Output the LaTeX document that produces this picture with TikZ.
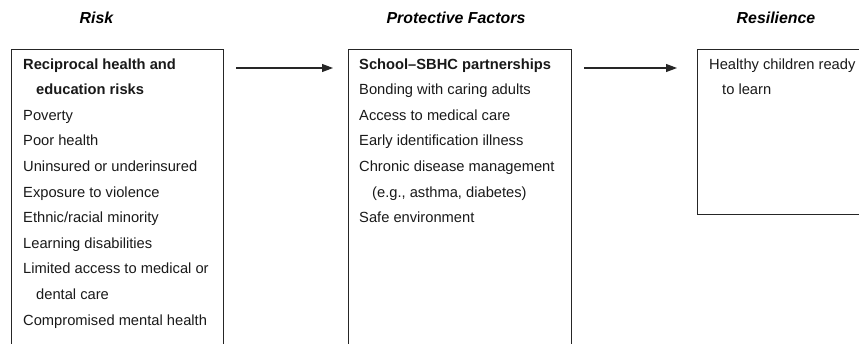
\documentclass[tikz,border=0pt]{standalone}
\usepackage{fontspec}
\setmainfont{Liberation Sans}
\usetikzlibrary{arrows.meta}
\begin{document}
\begin{tikzpicture}[x=1pt,y=-1pt,
  panel/.style={draw=black!85, line width=1pt, anchor=north west, inner sep=0pt},
  heading/.style={font=\fontsize{15.9}{18}\selectfont\bfseries\itshape, anchor=center},
  entry/.style={font=\fontsize{14.7}{17}\selectfont, anchor=base west, inner sep=0pt, text=black!90},
  strong/.style={entry, font=\fontsize{14.7}{17}\selectfont\bfseries},
  conn/.style={draw=black!85, line width=1.1pt, -{Triangle[length=11pt,width=8pt]}}
]
\useasboundingbox (0,0) rectangle (859,343);
\clip (0,0) rectangle (859,343);

% column headings
\node[heading] (hrisk) at (96.5,17.5) {Risk};
\node[heading] (hprot) at (456,17.5) {Protective Factors};
\node[heading] (hres)  at (776,17.5) {Resilience};

% panels (run past the lower and right edges)
\node[panel, minimum width=212, minimum height=320] (risk) at (11,49) {};
\node[panel, minimum width=223, minimum height=320] (prot) at (348,49) {};
\node[panel, minimum width=200, minimum height=165] (res)  at (697,49) {};

% connectors between panels
\draw[conn, shorten <=12pt, shorten >=15pt]
  ([yshift=-19pt]risk.north east) -- ([yshift=-19pt]prot.north west);
\draw[conn, shorten <=12pt, shorten >=20pt]
  ([yshift=-19pt]prot.north east) -- ([yshift=-19pt]res.north west);

% risk factors
\node[strong] (r1) at (23,69) {Reciprocal health and};
\node[strong] (r2) at (36,94.6) {education risks};
\node[entry] (r3) at (23,120.2) {Poverty};
\node[entry] (r4) at (23,145.8) {Poor health};
\node[entry] (r5) at (23,171.4) {Uninsured or underinsured};
\node[entry] (r6) at (23,197) {Exposure to violence};
\node[entry] (r7) at (23,222.6) {Ethnic/racial minority};
\node[entry] (r8) at (23,248.2) {Learning disabilities};
\node[entry] (r9) at (23,273.8) {Limited access to medical or};
\node[entry] (r10) at (36,299.4) {dental care};
\node[entry] (r11) at (23,325) {Compromised mental health};

% protective factors
\node[strong] (p1) at (359,69) {School–SBHC partnerships};
\node[entry] (p2) at (359,94.6) {Bonding with caring adults};
\node[entry] (p3) at (359,120.2) {Access to medical care};
\node[entry] (p4) at (359,145.8) {Early identification illness};
\node[entry] (p5) at (359,171.4) {Chronic disease management};
\node[entry] (p6) at (372,197) {(e.g., asthma, diabetes)};
\node[entry] (p7) at (359,222.6) {Safe environment};

% outcome
\node[entry] (o1) at (709,69) {Healthy children ready};
\node[entry] (o2) at (722,94.6) {to learn};
\end{tikzpicture}
\end{document}
